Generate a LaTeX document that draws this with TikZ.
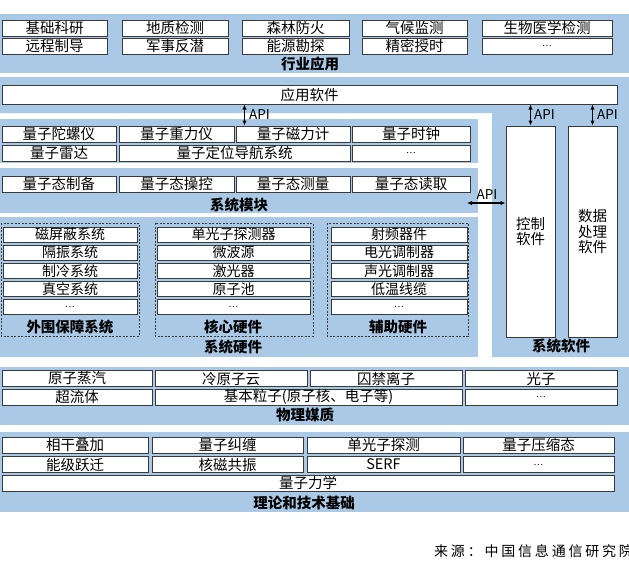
\documentclass[tikz,border=0pt]{standalone}
\usepackage{fontspec}
\setmainfont{Noto Sans CJK SC}
\newfontfamily\srcfont[LetterSpace=20]{Noto Sans CJK SC}
\usetikzlibrary{arrows.meta}
\definecolor{bandblue}{HTML}{A9C9E6}
\definecolor{boxline}{HTML}{3A3A3A}
\newcommand{\moredots}{{\fontsize{9}{9}\selectfont …}}

\begin{document}
\begin{tikzpicture}[
  x=1pt, y=-1pt,
  font=\fontsize{14.5}{15.5}\selectfont,
  cellbox/.style={draw=boxline, line width=1pt, fill=white, inner sep=0pt, minimum height=16},
  itembox/.style={cellbox, minimum height=15, font=\fontsize{14}{15}\selectfont},
  titletext/.style={font=\fontsize{14.5}{16}\selectfont\bfseries, inner sep=0pt},
  groupbox/.style={draw=boxline, dash pattern=on 2pt off 1.5pt, line width=0.7pt},
  apiarrow/.style={{Latex[length=5pt,width=4.5pt]}-{Latex[length=5pt,width=4.5pt]}, line width=1.2pt},
  apilabel/.style={font=\fontsize{13.5}{14}\selectfont, inner sep=0pt}
]
\useasboundingbox (0,0) rectangle (629,573);

% Blue bands in the background
\fill[bandblue] (0,14) rectangle (629,73);
\fill[bandblue] (0,77) -- (629,77) -- (629,357) -- (492,357) -- (492,113) -- (0,113) -- cycle;
\fill[bandblue] (0,119) rectangle (478,163);
\fill[bandblue] (0,168) rectangle (478,213);
\fill[bandblue] (0,217) rectangle (478,357);
\fill[bandblue] (0,367) rectangle (629,425);
\fill[bandblue] (0,432) rectangle (629,512);

% Industry applications
\node[cellbox, minimum width=105] (jichu) at (54.5,28) {基础科研};
\node[cellbox, minimum width=106] (dizhi) at (175,28) {地质检测};
\node[cellbox, minimum width=107] (senlin) at (295.5,28) {森林防火};
\node[cellbox, minimum width=105] (qihou) at (414.5,28) {气候监测};
\node[cellbox, minimum width=130] (shengwu) at (547,28) {生物医学检测};
\node[cellbox, minimum width=105] (yuancheng) at (54.5,46) {远程制导};
\node[cellbox, minimum width=106] (junshi) at (175,46) {军事反潜};
\node[cellbox, minimum width=107] (nengyuan) at (295.5,46) {能源勘探};
\node[cellbox, minimum width=105] (jingmi) at (414.5,46) {精密授时};
\node[cellbox, minimum width=130] (appmore) at (547,46) {\moredots};
\node[titletext] (hangye) at (310,64) {行业应用};

% Application software
\node[cellbox, minimum width=615, minimum height=19] (appsw) at (309.5,94.5) {应用软件};

% System modules: sensors
\node[cellbox, minimum width=114] (gyro) at (59,134) {量子陀螺仪};
\node[cellbox, minimum width=115] (grav) at (176.5,134) {量子重力仪};
\node[cellbox, minimum width=114] (mag) at (293,134) {量子磁力计};
\node[cellbox, minimum width=118] (clock) at (411,134) {量子时钟};
\node[cellbox, minimum width=114] (radar) at (59,153) {量子雷达};
\node[cellbox, minimum width=231] (nav) at (234.5,153) {量子定位导航系统};
\node[cellbox, minimum width=118] (sensmore) at (411,153) {\moredots};

% System modules: quantum states
\node[cellbox, minimum width=114] (prep) at (59,184) {量子态制备};
\node[cellbox, minimum width=115] (manip) at (176.5,184) {量子态操控};
\node[cellbox, minimum width=114] (meas) at (293,184) {量子态测量};
\node[cellbox, minimum width=118] (readout) at (411,184) {量子态读取};
\node[titletext] (modtitle) at (239,205) {系统模块};

% System hardware groups
\draw[groupbox] (1,223) rectangle (139,336);
\draw[groupbox] (155,223) rectangle (313,336);
\draw[groupbox] (327,223) rectangle (468,336);

\node[itembox, minimum width=134] (shield) at (70,234.5) {磁屏蔽系统};
\node[itembox, minimum width=134] (vibr) at (70,252.6) {隔振系统};
\node[itembox, minimum width=134] (cool) at (70,270.7) {制冷系统};
\node[itembox, minimum width=134] (vacuum) at (70,288.8) {真空系统};
\node[itembox, minimum width=134] (perimore) at (70,306.9) {\moredots};
\node[titletext] (perititle) at (70,327) {外围保障系统};

\node[itembox, minimum width=153] (spd) at (233.5,234.5) {单光子探测器};
\node[itembox, minimum width=153] (micro) at (233.5,252.6) {微波源};
\node[itembox, minimum width=153] (laser) at (233.5,270.7) {激光器};
\node[itembox, minimum width=153] (cell) at (233.5,288.8) {原子池};
\node[itembox, minimum width=153] (coremore) at (233.5,306.9) {\moredots};
\node[titletext] (coretitle) at (233,327) {核心硬件};

\node[itembox, minimum width=136] (rf) at (399,234.5) {射频器件};
\node[itembox, minimum width=136] (eom) at (399,252.6) {电光调制器};
\node[itembox, minimum width=136] (aom) at (399,270.7) {声光调制器};
\node[itembox, minimum width=136] (cable) at (399,288.8) {低温线缆};
\node[itembox, minimum width=136] (auxmore) at (399,306.9) {\moredots};
\node[titletext] (auxtitle) at (398,327) {辅助硬件};

\node[titletext] (hwtitle) at (233,347) {系统硬件};

% System software
\node[cellbox, minimum width=49, minimum height=211, align=center] (ctrlsw) at (530.5,231.5) {控制\\软件};
\node[cellbox, minimum width=49, minimum height=211, align=center] (datasw) at (592.5,231.5) {数据\\处理\\软件};
\node[titletext] (swtitle) at (561,346) {系统软件};

% API links
\coordinate (api1) at ([xshift=9]mag.north west);
\draw[apiarrow] (api1) -- (api1 |- appsw.south);
\draw[apiarrow] (ctrlsw.north) -- (ctrlsw.north |- appsw.south);
\draw[apiarrow] (datasw.north) -- (datasw.north |- appsw.south);
\coordinate (api4) at (467,203);
\draw[apiarrow] (api4) -- (api4 -| ctrlsw.west);
\node[apilabel, anchor=west] (apitxt1) at (249,115) {API};
\node[apilabel, anchor=west] (apitxt2) at (534,115) {API};
\node[apilabel, anchor=west] (apitxt3) at (597,115) {API};
\node[apilabel] (apitxt4) at (487,195) {API};

% Physical media
\node[cellbox, minimum width=150] (vapour) at (77,378.5) {原子蒸汽};
\node[cellbox, minimum width=152] (coldatom) at (231,378.5) {冷原子云};
\node[cellbox, minimum width=152] (ion) at (386,378.5) {囚禁离子};
\node[cellbox, minimum width=152] (photon) at (541,378.5) {光子};
\node[cellbox, minimum width=150] (superfl) at (77,397) {超流体};
\node[cellbox, minimum width=307] (particle) at (308.5,397) {基本粒子(原子核、电子等)};
\node[cellbox, minimum width=152] (mediamore) at (541,397) {\moredots};
\node[titletext] (mediatitle) at (305,415) {物理媒质};

% Theory and technical foundations
\node[cellbox, minimum width=146] (superpos) at (75,445) {相干叠加};
\node[cellbox, minimum width=151] (entangle) at (227.5,445) {量子纠缠};
\node[cellbox, minimum width=153] (spdetect) at (383.5,445) {单光子探测};
\node[cellbox, minimum width=151] (squeeze) at (538.5,445) {量子压缩态};
\node[cellbox, minimum width=146] (transit) at (75,464.5) {能级跃迁};
\node[cellbox, minimum width=151] (nmr) at (227.5,464.5) {核磁共振};
\node[cellbox, minimum width=153] (serf) at (383.5,464.5) {SERF};
\node[cellbox, minimum width=151] (basemore) at (538.5,464.5) {\moredots};
\node[cellbox, minimum width=612] (qm) at (308,483) {量子力学};
\node[titletext] (basetitle) at (304,503) {理论和技术基础};

% Source line
\node[anchor=west, inner sep=0pt, font=\srcfont\fontsize{14}{15}\selectfont] (source) at (434,551) {来源：中国信息通信研究院};

\end{tikzpicture}
\end{document}
